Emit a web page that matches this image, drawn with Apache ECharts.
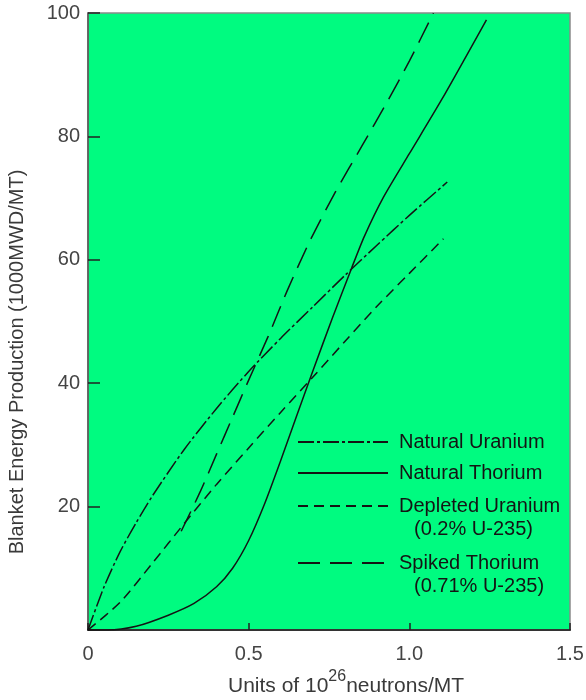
<!DOCTYPE html>
<html>
<head>
<meta charset="utf-8">
<script src="https://cdn.jsdelivr.net/npm/echarts@6/dist/echarts.min.js"></script>
<style>
  html, body { margin: 0; padding: 0; background: #fff; }
  #chart { width: 586px; height: 700px; }
</style>
</head>
<body>
<div id="chart"></div>
<script>
// curve data: [units of 1e26 neutrons/MT, 1000MWD/MT]
var naturalUranium = [
  [0, 0], [0.05, 7], [0.1, 12.7], [0.15, 17.4], [0.2, 21.7], [0.3, 29.3],
  [0.4, 35.9], [0.5, 41.9], [0.6, 47.3], [0.7, 52.4], [0.8, 57.5],
  [0.9, 62.4], [1.0, 67.2], [1.118, 72.6]
];
var naturalThorium = [
  [0, 0], [0.06, 0], [0.15, 0.6], [0.25, 2.4], [0.33, 4.3], [0.4, 7],
  [0.45, 10], [0.5, 14.5], [0.55, 20.5], [0.6, 27.5], [0.65, 34.8],
  [0.7, 42], [0.76, 50.5], [0.82, 58.6], [0.86, 63.8], [0.92, 70.2],
  [1.0, 77.2], [1.1, 85.9], [1.24, 98.9]
];
var depletedUranium = [
  [0, 0], [0.1, 4.5], [0.2, 10.8], [0.3, 17.3], [0.4, 23.6], [0.5, 29.5],
  [0.6, 35.3], [0.7, 41], [0.8, 46.8], [0.9, 52.5], [1.0, 57.8], [1.106, 63.4]
];
var spikedThorium = [
  [0.29, 16], [0.35, 22.5], [0.4, 28.5], [0.45, 34.5], [0.5, 40.5],
  [0.56, 47.5], [0.62, 55], [0.69, 63], [0.77, 71], [0.853, 78.5],
  [0.93, 85.5], [1.0, 92.2], [1.075, 100]
];
var seriesNames = ['Natural Uranium', 'Natural Thorium', 'Depleted Uranium', 'Spiked Thorium'];
var subNotes = ['(0.2% U-235)', '(0.71% U-235)'];
var xTicks = [0, 0.5, 1.0, 1.5];
var yTicks = [20, 40, 60, 80, 100];

var font = 'Liberation Sans, Arial, sans-serif';
var ink = '#141414';
var clear = 'rgba(0,0,0,0)';

var chart = echarts.init(document.getElementById('chart'));

function curve(name, data, dash) {
  return {
    name: name,
    type: 'line',
    data: data,
    showSymbol: false,
    symbol: 'none',
    smooth: 0.25,
    lineStyle: { color: ink, width: 1.5, type: dash },
    itemStyle: { color: ink },
    silent: true
  };
}

function legendRow(name, y) {
  return {
    data: [name],
    left: 297,
    top: y - 10,
    padding: 0,
    itemWidth: 90,
    itemHeight: 20,
    selectedMode: false,
    itemStyle: { color: clear, borderColor: clear, borderWidth: 0 },
    textStyle: { fontFamily: font, fontSize: 20, color: ink, padding: [0, 0, 0, 6] }
  };
}

chart.setOption({
  animation: false,
  backgroundColor: '#fff',
  grid: {
    left: 88, right: 16, top: 13, bottom: 70,
    outerBoundsMode: 'none',
    show: true,
    backgroundColor: '#00fb80',
    borderColor: '#8a8a8a',
    borderWidth: 1.5
  },
  xAxis: {
    type: 'value',
    min: 0, max: 1.5, interval: 0.5,
    name: '{a|Units of 10}{s|26}{a|neutrons/MT}',
    nameLocation: 'middle',
    nameGap: 38,
    nameTextStyle: {
      padding: [0, 0, 0, 34],
      rich: {
        a: { fontFamily: font, fontSize: 21, color: '#3a3a3a', lineHeight: 28, verticalAlign: 'bottom' },
        s: { fontFamily: font, fontSize: 16, color: '#3a3a3a', lineHeight: 16, verticalAlign: 'top' }
      }
    },
    axisLine: { lineStyle: { color: '#333', width: 2 } },
    axisTick: { inside: true, length: 7, lineStyle: { color: '#222', width: 1.5 } },
    axisLabel: {
      margin: 14,
      fontFamily: font, fontSize: 20, color: '#444',
      formatter: function (v) {
        if (xTicks.indexOf(v) < 0) return '';
        return v === 0 ? '0' : v.toFixed(1);
      }
    },
    splitLine: { show: false }
  },
  yAxis: {
    type: 'value',
    min: 0, max: 100, interval: 20,
    name: 'Blanket Energy Production (1000MWD/MT)',
    nameLocation: 'middle',
    nameGap: 61,
    nameTextStyle: { fontFamily: font, fontSize: 20, color: '#3a3a3a', padding: [0, 81, 0, 0] },
    axisLine: { show: true, lineStyle: { color: '#555', width: 1.5 } },
    axisTick: { inside: true, length: 12, lineStyle: { color: '#222', width: 1.5 } },
    axisLabel: {
      margin: 8,
      fontFamily: font, fontSize: 20, color: '#444',
      formatter: function (v) { return yTicks.indexOf(v) < 0 ? '' : String(v); }
    },
    splitLine: { show: false }
  },
  legend: [
    legendRow(seriesNames[0], 442),
    legendRow(seriesNames[1], 473),
    legendRow(seriesNames[2], 506),
    legendRow(seriesNames[3], 563)
  ],
  graphic: [
    { type: 'text', left: 414, top: 519, style: { text: subNotes[0], font: '20px ' + font, fill: ink } },
    { type: 'text', left: 414, top: 576, style: { text: subNotes[1], font: '20px ' + font, fill: ink } }
  ],
  series: [
    curve(seriesNames[0], naturalUranium, [16, 3, 3, 3]),
    curve(seriesNames[1], naturalThorium, 'solid'),
    curve(seriesNames[2], depletedUranium, [10, 6]),
    curve(seriesNames[3], spikedThorium, [22, 10])
  ]
});
</script>
</body>
</html>
